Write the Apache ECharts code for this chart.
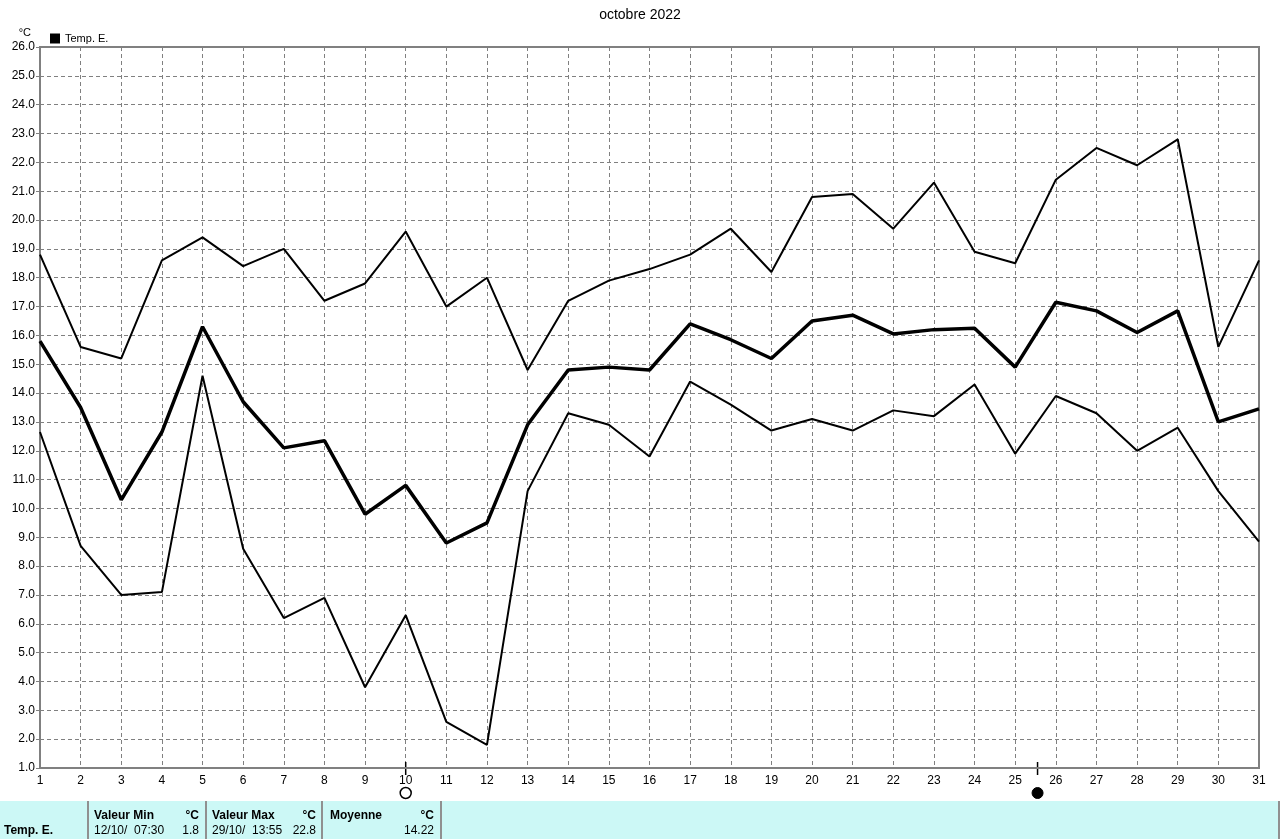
<!DOCTYPE html>
<html>
<head>
<meta charset="utf-8">
<script src="https://cdn.jsdelivr.net/npm/echarts@6/dist/echarts.min.js"></script>
<style>
html,body{margin:0;padding:0;background:#fff;}
#c{width:1280px;height:839px;}
</style>
</head>
<body>
<div id="c"></div>
<script>
const days = [1,2,3,4,5,6,7,8,9,10,11,12,13,14,15,16,17,18,19,20,21,22,23,24,25,26,27,28,29,30,31];
const tempMax = [18.8,15.6,15.2,18.6,19.4,18.4,19.0,17.2,17.8,19.6,17.0,18.0,14.8,17.2,17.9,18.3,18.8,19.7,18.2,20.8,20.9,19.7,21.3,18.9,18.5,21.4,22.5,21.9,22.8,15.6,18.6];
const tempMean = [15.8,13.5,10.3,12.65,16.3,13.7,12.1,12.35,9.8,10.8,8.8,9.5,12.9,14.8,14.9,14.8,16.4,15.85,15.2,16.5,16.7,16.05,16.2,16.25,14.9,17.15,16.85,16.1,16.85,13.0,13.45];
const tempMin = [12.65,8.7,7.0,7.1,14.6,8.6,6.2,6.9,3.8,6.3,2.6,1.8,10.6,13.3,12.9,11.8,14.4,13.6,12.7,13.1,12.7,13.4,13.2,14.3,11.9,13.9,13.3,12.0,12.8,10.6,8.85];
const yTicks = {min: 1, max: 26, step: 1};
const moonDays = [10, 25.55];
const moonFilled = [false, true];
const seriesName = 'Temp. E.';
const tableHeaders = ['Valeur Min', 'Valeur Max', 'Moyenne'];
const tableUnits = ['°C', '°C', '°C'];
const tableDates = ['12/10/  07:30', '29/10/  13:55', ''];
const tableValues = ['1.8', '22.8', '14.22'];

const chart = echarts.init(document.getElementById('c'), null, {renderer: 'canvas'});
const font = 'Liberation Sans, Arial, sans-serif';
const toPairs = arr => arr.map((v, i) => [days[i], v]);

const option = {
  animation: false,
  backgroundColor: '#ffffff',
  title: {
    text: 'octobre 2022', left: 'center', top: 3,
    textStyle: {fontSize: 14, fontWeight: 'normal', color: '#000', fontFamily: font}
  },
  legend: {
    data: [seriesName], left: 50, top: 33, padding: 0, icon: 'rect', itemWidth: 10, itemHeight: 10, itemGap: 4,
    textStyle: {fontSize: 11, color: '#000', fontFamily: font}, selectedMode: false
  },
  grid: {
    left: 40, right: 21, top: 47, bottom: 71, show: true,
    borderColor: '#808080', borderWidth: 2, backgroundColor: 'transparent'
  },
  xAxis: {
    type: 'value', min: 1, max: 31, interval: 1,
    axisLine: {show: true, lineStyle: {color: '#808080', width: 2}},
    axisTick: {show: false},
    axisLabel: {color: '#000', fontSize: 12, fontFamily: font, margin: 7},
    splitLine: {show: true, lineStyle: {color: '#808080', type: [4, 3], width: 1}}
  },
  yAxis: {
    type: 'value', min: yTicks.min, max: yTicks.max, interval: yTicks.step,
    name: '°C', nameLocation: 'end', nameGap: 9,
    nameTextStyle: {color: '#000', fontSize: 11, fontFamily: font, align: 'right', padding: [0, 9, 0, 0]},
    axisLine: {show: true, lineStyle: {color: '#808080', width: 2}},
    axisTick: {show: true, length: 4, lineStyle: {color: '#808080'}},
    axisLabel: {color: '#000', fontSize: 12, fontFamily: font, margin: 5, formatter: v => v.toFixed(1)},
    splitLine: {show: true, lineStyle: {color: '#808080', type: [4, 3], width: 1}}
  },
  series: [
    {name: 'max', type: 'line', data: toPairs(tempMax), symbol: 'none', lineStyle: {color: '#000', width: 2}, itemStyle: {color: '#000'}},
    {name: seriesName, type: 'line', data: toPairs(tempMean), symbol: 'none', lineStyle: {color: '#000', width: 3.5}, itemStyle: {color: '#000'}},
    {name: 'min', type: 'line', data: toPairs(tempMin), symbol: 'none', lineStyle: {color: '#000', width: 2}, itemStyle: {color: '#000'}}
  ]
};
chart.setOption(option);

// moon phases and statistics table
const g = [];
moonDays.forEach((d, i) => {
  const p = chart.convertToPixel({gridIndex: 0}, [d, yTicks.min]);
  g.push({type: 'line', shape: {x1: p[0], y1: p[1] - 6, x2: p[0], y2: p[1] + 7}, style: {stroke: '#000', lineWidth: 1.5}});
  g.push({type: 'circle', shape: {cx: p[0], cy: p[1] + 25, r: 5.5}, style: moonFilled[i] ? {fill: '#000', stroke: '#000', lineWidth: 1} : {fill: '#fff', stroke: '#000', lineWidth: 1.5}});
});
const tTop = 801, tBot = 839;
g.push({type: 'rect', shape: {x: 0, y: tTop, width: 1280, height: tBot - tTop}, style: {fill: '#ccf8f6'}});
[88, 206, 322, 441, 1279].forEach(x => g.push({type: 'line', shape: {x1: x, y1: tTop, x2: x, y2: tBot}, style: {stroke: '#909090', lineWidth: 2}}));
g.push({type: 'text', x: 4, y: 831, style: {text: seriesName, font: 'bold 12px ' + font, fill: '#000', textVerticalAlign: 'middle'}});
const colL = [94, 212, 330], colR = [199, 316, 434];
for (let i = 0; i < 3; i++) {
  g.push({type: 'text', x: colL[i], y: 816, style: {text: tableHeaders[i], font: 'bold 12px ' + font, fill: '#000', textVerticalAlign: 'middle'}});
  g.push({type: 'text', x: colR[i], y: 816, style: {text: tableUnits[i], font: 'bold 12px ' + font, fill: '#000', textAlign: 'right', textVerticalAlign: 'middle'}});
  g.push({type: 'text', x: colL[i], y: 831, style: {text: tableDates[i], font: '12px ' + font, fill: '#000', textVerticalAlign: 'middle'}});
  g.push({type: 'text', x: colR[i], y: 831, style: {text: tableValues[i], font: '12px ' + font, fill: '#000', textAlign: 'right', textVerticalAlign: 'middle'}});
}
chart.setOption({graphic: g});
</script>
</body>
</html>
